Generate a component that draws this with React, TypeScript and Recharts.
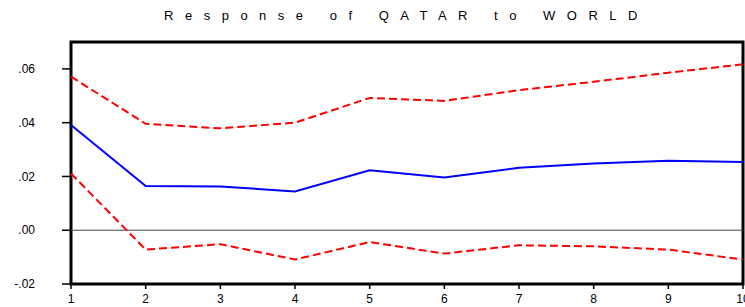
import React from 'react';
import {
  LineChart,
  Line,
  XAxis,
  YAxis,
  ReferenceLine,
  usePlotArea
} from 'recharts';

// periods after the shock
const periods = [1, 2, 3, 4, 5, 6, 7, 8, 9, 10];
// response of QATAR to WORLD, with +/- 2 S.E. bands
const response = [0.0391, 0.0164, 0.0163, 0.0144, 0.0223, 0.0196, 0.0232, 0.0248, 0.0258, 0.0254];
const upperBand = [0.0571, 0.0396, 0.0379, 0.0400, 0.0492, 0.0481, 0.0521, 0.0552, 0.0586, 0.0617];
const lowerBand = [0.0211, -0.0072, -0.0052, -0.0109, -0.0044, -0.0087, -0.0056, -0.0060, -0.0072, -0.0109];
const yTicks = [-0.02, 0, 0.02, 0.04, 0.06];
const xDomain = [1, 10];
const yDomain = [-0.02, 0.07];

const chartData = periods.map((p, i) => ({
  period: p,
  response: response[i],
  upper: upperBand[i],
  lower: lowerBand[i]
}));

const font = '"Liberation Sans", Arial, sans-serif';

const formatTick = (v: number) => {
  if (v === 0) return '.00';
  const s = Math.abs(v).toFixed(2).replace(/^0/, '');
  return v < 0 ? '-' + s : s;
};

// black box around the plot area, like the EViews frame
function PlotFrame() {
  const area = usePlotArea();
  if (!area) return null;
  return (
    <rect
      x={area.x}
      y={area.y}
      width={area.width}
      height={area.height}
      fill="none"
      stroke="#000"
      strokeWidth={3}
    />
  );
}

export default function App() {
  return (
    <div style={{ position: 'absolute', left: 0, top: 0, width: 745, height: 307, background: '#fff' }}>
      <div
        style={{
          position: 'absolute',
          left: 0,
          top: 8,
          width: 745,
          paddingLeft: 68,
          boxSizing: 'border-box',
          textAlign: 'center',
          fontFamily: font,
          fontSize: 13,
          letterSpacing: 11.5,
          color: '#000'
        }}
      >
        Response of QATAR to WORLD
      </div>
      <LineChart
        width={745}
        height={307}
        data={chartData}
        margin={{ top: 42, right: 2, bottom: 0, left: 0 }}
      >
        <XAxis
          dataKey="period"
          type="number"
          domain={xDomain}
          ticks={periods}
          axisLine={false}
          tickLine={{ stroke: '#000', strokeWidth: 1.5 }}
          tickSize={5}
          tickMargin={5}
          height={23}
          interval={0}
          tick={{ fill: '#000', fontSize: 12, fontFamily: font }}
        />
        <YAxis
          type="number"
          domain={yDomain}
          ticks={yTicks}
          allowDataOverflow
          axisLine={false}
          tickLine={{ stroke: '#000', strokeWidth: 1.5 }}
          tickSize={9}
          tickMargin={27}
          width={71}
          tickFormatter={formatTick}
          tick={{ fill: '#000', fontSize: 12, fontFamily: font }}
        />
        <ReferenceLine y={0} stroke="#444" strokeWidth={1} />
        <Line
          dataKey="upper"
          stroke="#ff0000"
          strokeWidth={2}
          strokeDasharray="8 4"
          dot={false}
          isAnimationActive={false}
        />
        <Line
          dataKey="lower"
          stroke="#ff0000"
          strokeWidth={2}
          strokeDasharray="8 4"
          dot={false}
          isAnimationActive={false}
        />
        <Line
          dataKey="response"
          stroke="#0000ff"
          strokeWidth={2}
          dot={false}
          isAnimationActive={false}
        />
        <PlotFrame />
      </LineChart>
    </div>
  );
}
